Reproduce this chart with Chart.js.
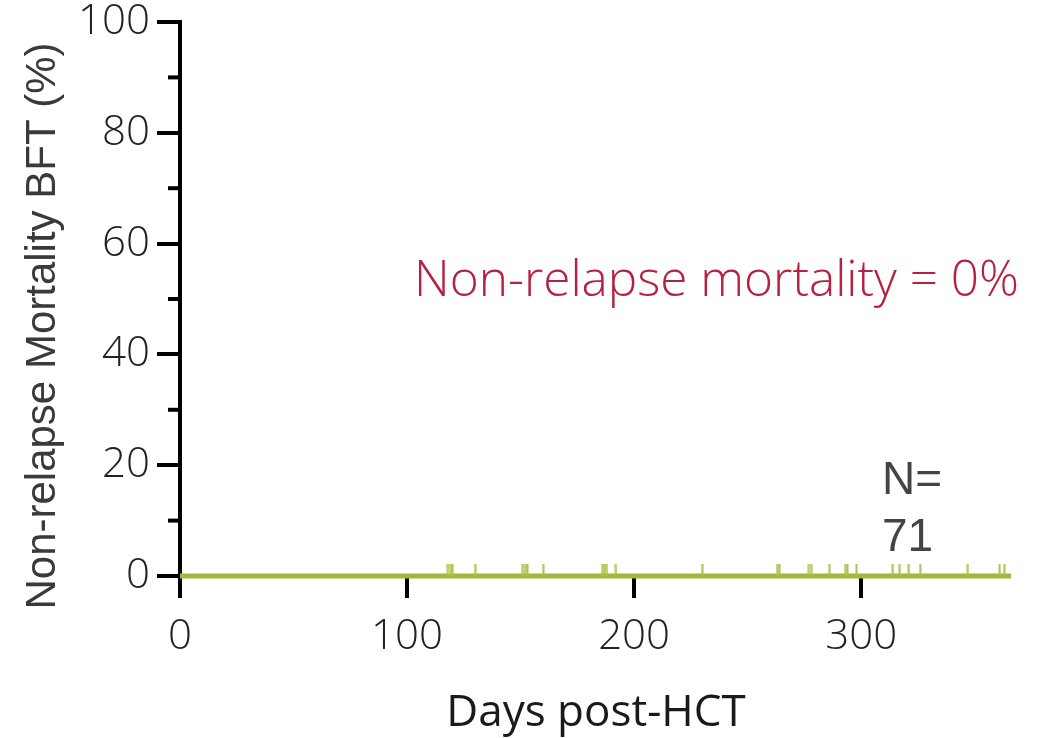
<!DOCTYPE html>
<html>
<head>
<meta charset="utf-8">
<script src="https://cdn.jsdelivr.net/npm/chart.js@4.4.1/dist/chart.umd.min.js"></script>
<style>
  html, body { margin: 0; padding: 0; background: #fff; }
  #wrap { width: 1039px; height: 738px; }
</style>
</head>
<body>
<div id="wrap"><canvas id="nrmChart" width="1039" height="738"></canvas></div>
<script>
// Data
const curveDays = [0, 366];
const curveNrm = [0, 0];
const censorDays = [118, 119, 120, 130, 151, 152, 153, 160, 186, 187, 188, 192, 230,
                    263, 264, 277, 278, 286, 293, 294, 298, 314, 317, 321, 326, 347, 361, 363];
const xTicks = [0, 100, 200, 300];
const yMinorTicks = [10, 30, 50, 70, 90];

const green = '#a2b63a';

// censor mark: upper half of a canvas is a short vertical tick, lower half empty
function censorMark() {
    const c = document.createElement('canvas');
    c.width = 3; c.height = 24;
    const g = c.getContext('2d');
    g.fillStyle = '#abc046';
    g.fillRect(0.5, 0, 2, 12);
    return c;
}

// extra texts + minor ticks
const decorations = {
    id: 'decorations',
    afterDraw(chart) {
        const ctx = chart.ctx;
        const y = chart.scales.y;
        ctx.save();
        // minor ticks on y axis
        ctx.strokeStyle = '#000';
        ctx.lineWidth = 4;
        yMinorTicks.forEach(v => {
            const py = y.getPixelForValue(v);
            ctx.beginPath();
            ctx.moveTo(y.right - 12, py);
            ctx.lineTo(y.right, py);
            ctx.stroke();
        });

        // y axis title
        ctx.save();
        ctx.translate(55, 326);
        ctx.rotate(-Math.PI / 2);
        ctx.font = '42px "Liberation Sans", Arial, sans-serif';
        ctx.fillStyle = '#3a3a3a';
        ctx.textAlign = 'center';
        ctx.textBaseline = 'alphabetic';
        ctx.fillText('Non-relapse Mortality BFT (%)', 0, 0);
        ctx.restore();

        // x axis title
        ctx.font = '44px "Open Sans", sans-serif';
        ctx.fillStyle = '#1a1a1a';
        ctx.textAlign = 'center';
        ctx.textBaseline = 'alphabetic';
        ctx.fillText('Days post-HCT', 596, 726);

        // annotation
        ctx.font = '300 49.5px "Open Sans", sans-serif';
        ctx.fillStyle = '#b5213f';
        ctx.textAlign = 'right';
        ctx.fillText('Non-relapse mortality = 0%', 1019, 296);

        // N
        ctx.font = '46px "Liberation Sans", Arial, sans-serif';
        ctx.fillStyle = '#444';
        ctx.textAlign = 'left';
        ctx.fillText('N=', 882, 494);
        ctx.fillText('71', 882, 551);
        ctx.restore();
    }
};

const ctx = document.getElementById('nrmChart').getContext('2d');

const nrmChart = new Chart(ctx, {
    type: 'scatter',
    data: {
        datasets: [{
            type: 'line',
            data: curveDays.map((d, i) => ({ x: d, y: curveNrm[i] })),
            borderColor: green,
            borderWidth: 5,
            pointRadius: 0,
            stepped: true,
            fill: false,
            clip: false,
            order: 2
        }, {
            data: censorDays.map(d => ({ x: d, y: 0 })),
            pointStyle: censorMark(),
            clip: false,
            order: 1
        }]
    },
    options: {
        responsive: false,
        animation: false,
        layout: { padding: { top: 22, right: 28, left: 0, bottom: 0 } },
        plugins: {
            legend: { display: false },
            tooltip: { enabled: false }
        },
        scales: {
            x: {
                type: 'linear',
                min: 0,
                max: 366,
                afterBuildTicks: s => { s.ticks = xTicks.map(v => ({ value: v })); },
                afterFit: s => { s.height = 162; s.paddingLeft = 0; s.paddingRight = 0; },
                border: { display: false },
                grid: {
                    drawOnChartArea: false,
                    drawTicks: true,
                    tickLength: 22,
                    lineWidth: 4,
                    color: '#000'
                },
                ticks: {
                    color: '#222',
                    padding: 14,
                    maxRotation: 0,
                    font: { family: 'Open Sans', size: 42, weight: 300 }
                }
            },
            y: {
                min: 0,
                max: 100,
                afterFit: s => { s.width = 180; s.paddingTop = 0; s.paddingBottom = 0; },
                border: { display: true, color: '#000', width: 4 },
                grid: {
                    drawOnChartArea: false,
                    drawTicks: true,
                    tickLength: 23,
                    lineWidth: 4,
                    color: '#000'
                },
                ticks: {
                    stepSize: 20,
                    color: '#222',
                    padding: 7,
                    font: { family: 'Open Sans', size: 42, weight: 300 }
                }
            }
        }
    },
    plugins: [decorations]
});
</script>
</body>
</html>
